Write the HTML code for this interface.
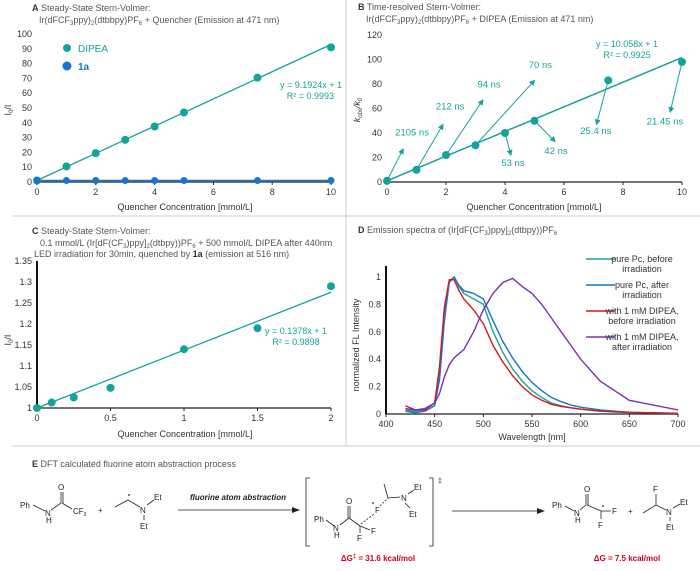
<!DOCTYPE html>
<html><head><meta charset="utf-8"><style>
body{margin:0;background:#fff;width:700px;height:566px;overflow:hidden}
svg{font-family:"Liberation Sans",sans-serif}
</style></head><body>
<svg id="s" width="700" height="566" viewBox="0 0 700 566">
<!-- dividers -->
<line x1="346" y1="0" x2="346" y2="446" stroke="#ccc" stroke-width="1"/>
<line x1="12" y1="216" x2="700" y2="216" stroke="#ccc"/>
<line x1="12" y1="446" x2="700" y2="446" stroke="#ccc"/>
<!-- titles -->
<g font-size="9" fill="#555">
<text x="32" y="11"><tspan font-weight="bold" fill="#333">A</tspan> Steady-State Stern-Volmer:</text>
<text x="39" y="23">Ir(dFCF<tspan font-size="6" dy="2">3</tspan><tspan dy="-2">ppy)</tspan><tspan font-size="6" dy="2">2</tspan><tspan dy="-2">(dtbbpy)PF</tspan><tspan font-size="6" dy="2">6</tspan><tspan dy="-2"> + Quencher (Emission at 471 nm)</tspan></text>
<text x="358" y="10"><tspan font-weight="bold" fill="#333">B</tspan> Time-resolved Stern-Volmer:</text>
<text x="366" y="22">Ir(dFCF<tspan font-size="6" dy="2">3</tspan><tspan dy="-2">ppy)</tspan><tspan font-size="6" dy="2">2</tspan><tspan dy="-2">(dtbbpy)PF</tspan><tspan font-size="6" dy="2">6</tspan><tspan dy="-2"> + DIPEA (Emission at 471 nm)</tspan></text>
<text x="32" y="234"><tspan font-weight="bold" fill="#333">C</tspan> Steady-State Stern-Volmer:</text>
<text x="40" y="246">0.1 mmol/L (Ir[dF(CF<tspan font-size="6" dy="2">3</tspan><tspan dy="-2">)ppy]</tspan><tspan font-size="6" dy="2">2</tspan><tspan dy="-2">(dtbpy))PF</tspan><tspan font-size="6" dy="2">6</tspan><tspan dy="-2"> + 500 mmol/L DIPEA after 440nm</tspan></text>
<text x="34" y="257">LED irradiation for 30min, quenched by <tspan font-weight="bold" fill="#333">1a</tspan> (emission at 516 nm)</text>
<text x="358" y="233"><tspan font-weight="bold" fill="#333">D</tspan> Emission spectra of (Ir[dF(CF<tspan font-size="6" dy="2">3</tspan><tspan dy="-2">)ppy]</tspan><tspan font-size="6" dy="2">2</tspan><tspan dy="-2">(dtbpy))PF</tspan><tspan font-size="6" dy="2">6</tspan></text>
<text x="32" y="467"><tspan font-weight="bold" fill="#333">E</tspan> DFT calculated fluorine atom abstraction process</text>
</g>
<g id="charts"></g>
<!-- Panel E scheme -->
<g font-size="8" fill="#222" stroke-width="0.8">
<text x="20" y="508">Ph</text><line x1="33" y1="505" x2="45" y2="511" stroke="#222"/>
<text x="45" y="516">N</text><text x="46" y="523">H</text>
<line x1="51" y1="510" x2="61" y2="503" stroke="#222"/>
<line x1="61" y1="503" x2="61" y2="492" stroke="#222"/><line x1="63" y1="503" x2="63" y2="492" stroke="#222"/>
<text x="58" y="490">O</text>
<line x1="62" y1="503" x2="72" y2="509" stroke="#222"/><text x="73" y="514">CF<tspan font-size="5" dy="2">3</tspan></text>
<text x="98" y="513">+</text>
<line x1="115" y1="507" x2="128" y2="500" stroke="#222"/><line x1="128" y1="500" x2="140" y2="507" stroke="#222"/>
<circle cx="129" cy="495" r="0.9" fill="#222"/>
<text x="140" y="513">N</text><line x1="147" y1="505" x2="154" y2="500" stroke="#222"/><text x="154" y="500">Et</text>
<line x1="144" y1="515" x2="144" y2="520" stroke="#222"/><text x="140" y="529">Et</text>
<text x="238" y="500" text-anchor="middle" font-weight="bold" font-style="italic">fluorine atom abstraction</text>
<line x1="178" y1="510" x2="294" y2="510" stroke="#222"/><polygon points="300,510 292,507 292,513" fill="#222"/>
<path d="M310 478 H306 V546 H310" fill="none" stroke="#222"/>
<path d="M429 478 H433 V546 H429" fill="none" stroke="#222"/>
<text x="438" y="483" font-size="7">‡</text>
<text x="314" y="522">Ph</text><line x1="326" y1="520" x2="334" y2="526" stroke="#222"/>
<text x="333" y="531">N</text><text x="334" y="538">H</text>
<line x1="340" y1="525" x2="349" y2="518" stroke="#222"/>
<line x1="348" y1="518" x2="348" y2="506" stroke="#222"/><line x1="350" y1="518" x2="350" y2="506" stroke="#222"/>
<text x="346" y="504">O</text>
<line x1="349" y1="518" x2="360" y2="526" stroke="#222"/>
<line x1="360" y1="526" x2="360" y2="533" stroke="#222"/><text x="357" y="541">F</text>
<line x1="360" y1="526" x2="370" y2="530" stroke="#222"/><text x="371" y="534">F</text>
<line x1="361" y1="524" x2="374" y2="514" stroke="#222" stroke-dasharray="2,1.5"/><text x="375" y="513">F</text>
<circle cx="373" cy="503" r="0.9" fill="#222"/>
<line x1="380" y1="506" x2="388" y2="498" stroke="#222" stroke-dasharray="2,1.5"/>
<line x1="388" y1="498" x2="384" y2="484" stroke="#222"/><line x1="388" y1="498" x2="400" y2="497" stroke="#222"/>
<text x="401" y="501">N</text><line x1="408" y1="494" x2="414" y2="490" stroke="#222"/><text x="414" y="490">Et</text>
<line x1="405" y1="503" x2="410" y2="508" stroke="#222"/><text x="409" y="517">Et</text>
<line x1="452" y1="511" x2="539" y2="511" stroke="#222"/><polygon points="545,511 537,508 537,514" fill="#222"/>
<text x="552" y="508">Ph</text><line x1="565" y1="506" x2="574" y2="511" stroke="#222"/>
<text x="574" y="516">N</text><text x="575" y="523">H</text>
<line x1="580" y1="510" x2="586" y2="505" stroke="#222"/>
<line x1="586" y1="505" x2="586" y2="494" stroke="#222"/><line x1="588" y1="505" x2="588" y2="494" stroke="#222"/>
<text x="584" y="492">O</text>
<line x1="587" y1="505" x2="601" y2="511" stroke="#222"/><circle cx="603" cy="506" r="0.9" fill="#222"/>
<line x1="601" y1="511" x2="611" y2="511" stroke="#222"/><text x="612" y="514">F</text>
<line x1="601" y1="511" x2="601" y2="519" stroke="#222"/><text x="598" y="528">F</text>
<text x="628" y="514">+</text>
<line x1="643" y1="513" x2="656" y2="505" stroke="#222"/><line x1="656" y1="505" x2="656" y2="494" stroke="#222"/><text x="653" y="492">F</text>
<line x1="656" y1="505" x2="666" y2="510" stroke="#222"/>
<text x="666" y="515">N</text><line x1="673" y1="508" x2="680" y2="504" stroke="#222"/><text x="680" y="505">Et</text>
<line x1="670" y1="517" x2="670" y2="521" stroke="#222"/><text x="666" y="530">Et</text>
<text x="378" y="561" text-anchor="middle" fill="#d0021b" font-weight="bold">ΔG<tspan font-size="6" dy="-3">‡</tspan><tspan dy="3"> = 31.6 kcal/mol</tspan></text>
<text x="627" y="561" text-anchor="middle" fill="#d0021b" font-weight="bold">ΔG = 7.5 kcal/mol</text>
</g>
</svg>
<script>
// ---- data ----
const aConc=[0,1,2,3,4,5,7.5,10];
const aDipea=[1,10.5,19.5,28.5,37.5,47,70.5,91];
const a1a=[1,1,1,1,1,1,1,1];
const aTicksX=[0,2,4,6,8,10];
const aTicksY=[0,10,20,30,40,50,60,70,80,90,100];
const bConc=[0,1,2,3,4,5,7.5,10];
const bVals=[1,10,22,30,40,50,83,98];
const bLabels=["2105 ns","212 ns","94 ns","70 ns","53 ns","42 ns","25.4 ns","21.45 ns"];
const bArrowEndX=[0.55,1.9,3.25,5.0,4.2,5.7,7.1,9.6];
const bArrowEndY=[27,47,67,83,22,33,47,57];
const bLabelX=[0.85,2.14,3.46,5.2,4.27,5.73,7.08,9.42];
const bLabelY=[38,59,77,93,13,23,39,47];
const bTicksY=[0,20,40,60,80,100,120];
const cConc=[0,0.1,0.25,0.5,1,1.5,2];
const cVals=[1,1.013,1.025,1.048,1.14,1.19,1.29];
const cTicksX=[0,0.5,1,1.5,2];
const cTicksY=[1,1.05,1.1,1.15,1.2,1.25,1.3,1.35];
const dWave=[420,430,440,450,455,460,465,470,475,480,490,500,510,520,530,540,550,560,570,580,590,600,620,650,700];
const dTeal=[0.03,0.02,0.03,0.08,0.3,0.72,0.97,1.0,0.93,0.88,0.84,0.8,0.6,0.45,0.33,0.24,0.17,0.12,0.08,0.06,0.045,0.035,0.02,0.01,0.005];
const dBlue=[0.02,0.01,0.02,0.06,0.25,0.68,0.96,1.0,0.94,0.9,0.88,0.84,0.68,0.53,0.41,0.31,0.23,0.17,0.12,0.09,0.065,0.05,0.03,0.012,0.005];
const dRed=[0.06,0.03,0.03,0.08,0.35,0.78,0.98,0.98,0.9,0.84,0.76,0.66,0.5,0.38,0.28,0.2,0.14,0.1,0.07,0.055,0.045,0.035,0.022,0.012,0.005];
const dPurple=[0.04,0.03,0.04,0.08,0.15,0.27,0.36,0.41,0.44,0.47,0.6,0.76,0.88,0.96,0.99,0.93,0.88,0.8,0.7,0.6,0.5,0.4,0.24,0.1,0.03];
const dTicksX=[400,450,500,550,600,650,700];
const dTicksY=[0,0.2,0.4,0.6,0.8,1];
const dNames=["pure Pc, before|irradiation","pure Pc, after|irradiation","with 1 mM DIPEA,|before irradiation","with 1 mM DIPEA,|after irradiation"];

const NS="http://www.w3.org/2000/svg";
const root=document.getElementById('charts');
const TEAL="#14a39a",BLUE="#1874cd",RED="#d7191c",PURPLE="#7b2fb5";
function mk(tag,at,parent){const e=document.createElementNS(NS,tag);for(const k in at)e.setAttribute(k,at[k]);(parent||root).appendChild(e);return e;}
function txt(x,y,s,at,parent){const e=mk('text',Object.assign({x:x,y:y,'font-size':9,fill:'#333'},at||{}),parent);e.textContent=s;return e;}
function scale(d0,d1,r0,r1){return v=>r0+(v-d0)/(d1-d0)*(r1-r0);}

function axes(g,sx,sy,tx,ty,x0,x1,y0,y1,fmtX,fmtY,yAxis,xT,yT){
  const xa=mk('line',{x1:sx(x0),x2:sx(x1),y1:sy(y0),y2:sy(y0),stroke:'#222','stroke-width':1.2},g);
  
  
  tx.forEach(v=>{mk('line',{x1:sx(v),x2:sx(v),y1:sy(y0),y2:sy(y0)+3,stroke:'#222'},g);
    const t=txt(sx(v),sy(y0)+13,fmtX(v),{'text-anchor':'middle'},g);
    
    });
  if(yAxis){const ya=mk('line',{x1:sx(x0),x2:sx(x0),y1:sy(y0),y2:sy(y1),stroke:'#111','stroke-width':2},g);
    
    }
  ty.forEach(v=>{const t=txt(sx(x0)-5,sy(v)+3,fmtY(v),{'text-anchor':'end'},g);
    
    });
}
function dot(g,x,y,r,c,name){const e=mk('circle',{cx:x,cy:y,r:r,fill:c},g);
  
  }

// Panel A
(function(){
  const g=mk('g',{});
  
  
  const sx=scale(0,10,37,331),sy=scale(0,100,182,34);
  axes(g,sx,sy,aTicksX,aTicksY,0,10,0,100,String,String,false);
  const tr=mk('line',{x1:sx(0),y1:sy(1),x2:sx(10),y2:sy(92.9),stroke:TEAL,'stroke-width':1.3},g);
  
  
  const bl=mk('line',{x1:sx(0),y1:sy(1),x2:sx(10),y2:sy(1),stroke:BLUE,'stroke-width':1.5},g);
  
  
  aConc.forEach((c,i)=>dot(g,sx(c),sy(aDipea[i]),4,TEAL,'dipea-point'));
  aConc.forEach((c,i)=>dot(g,sx(c),sy(a1a[i]),3.5,BLUE,'1a-point'));
  dot(g,67,48,4,TEAL,'legend-dipea-marker');
  txt(78,52,'DIPEA',{fill:TEAL,'font-size':10},g);
  dot(g,67,66,4.5,BLUE,'legend-1a-marker');
  txt(78,70,'1a',{fill:BLUE,'font-size':10,'font-weight':'bold'},g);
  txt(342,88,'y = 9.1924x + 1',{fill:TEAL,'text-anchor':'end'},g);
  txt(334,99,'R² = 0.9993',{fill:TEAL,'text-anchor':'end'},g);
  txt(185,210,'Quencher Concentration [mmol/L]',{'text-anchor':'middle'},g);
  const yt=txt(0,0,'I',{transform:'translate(11,110) rotate(-90)','text-anchor':'middle'},g);
  yt.innerHTML='I<tspan font-size="6" dy="2">0</tspan><tspan dy="-2">/I</tspan>';
  
})();
// Panel B
(function(){
  const g=mk('g',{});
  
  
  const sx=scale(0,10,387,682),sy=scale(0,120,182,35);
  axes(g,sx,sy,aTicksX,bTicksY,0,10,0,120,String,String,false);
  const tr=mk('line',{x1:sx(0),y1:sy(1),x2:sx(10),y2:sy(101.6),stroke:TEAL,'stroke-width':1.5},g);
  
  
  const defs=mk('defs',{},g);
  const m=mk('marker',{id:'ah',markerWidth:6,markerHeight:6,refX:5,refY:3,orient:'auto'},defs);
  mk('path',{d:'M0,0 L6,3 L0,6 z',fill:TEAL},m);
  bConc.forEach((c,i)=>{const a=mk('line',{x1:sx(c),y1:sy(bVals[i]),x2:sx(bArrowEndX[i]),y2:sy(bArrowEndY[i]),stroke:TEAL,'stroke-width':1,'marker-end':'url(#ah)'},g);
    
    
    const t=txt(sx(bLabelX[i]),sy(bLabelY[i]),bLabels[i],{fill:TEAL,'font-size':9.5,'text-anchor':'middle'},g);
    
    });
  bConc.forEach((c,i)=>dot(g,sx(c),sy(bVals[i]),4,TEAL,'kobs-point'));
  txt(627,47,'y = 10.058x + 1',{fill:TEAL,'text-anchor':'middle'},g);
  txt(627,58,'R² = 0.9925',{fill:TEAL,'text-anchor':'middle'},g);
  txt(534,210,'Quencher Concentration [mmol/L]',{'text-anchor':'middle'},g);
  const yt=txt(0,0,'',{transform:'translate(360,110) rotate(-90)','text-anchor':'middle','font-style':'italic'},g);
  yt.innerHTML='k<tspan font-size="6" dy="2">obs</tspan><tspan dy="-2">/k</tspan><tspan font-size="6" dy="2">0</tspan>';
  
})();
// Panel C
(function(){
  const g=mk('g',{});
  
  
  const sx=scale(0,2,37,331),sy=scale(1,1.35,408,261);
  axes(g,sx,sy,cTicksX,cTicksY,0,2,1,1.35,String,String,true);
  const tr=mk('line',{x1:sx(0),y1:sy(1),x2:sx(2),y2:sy(1.2756),stroke:TEAL,'stroke-width':1.3},g);
  
  
  cConc.forEach((c,i)=>dot(g,sx(c),sy(cVals[i]),4,TEAL,'c-point'));
  txt(296,334,'y = 0.1378x + 1',{fill:TEAL,'text-anchor':'middle'},g);
  txt(296,345,'R² = 0.9898',{fill:TEAL,'text-anchor':'middle'},g);
  txt(185,437,'Quencher Concentration [mmol/L]',{'text-anchor':'middle'},g);
  const yt=txt(0,0,'',{transform:'translate(11,340) rotate(-90)','text-anchor':'middle'},g);
  yt.innerHTML='I<tspan font-size="6" dy="2">0</tspan><tspan dy="-2">/I</tspan>';
  
})();
// Panel D
(function(){
  const g=mk('g',{});
  
  
  const sx=scale(400,700,386,678),sy=scale(0,1,414,277);
  axes(g,sx,sy,dTicksX,dTicksY,400,700,0,1.08,String,String,true);
  const series=[dTeal,dBlue,dRed,dPurple],cols=[TEAL,BLUE,RED,PURPLE];
  series.forEach((s,k)=>{const p=mk('polyline',{points:dWave.map((w,i)=>sx(w)+','+sy(s[i])).join(' '),fill:'none',stroke:cols[k],'stroke-width':1.4},g);
    
    });
  dNames.forEach((n,k)=>{const y=259+k*26;
    const l=mk('line',{x1:586,x2:615,y1:y,y2:y,stroke:cols[k],'stroke-width':1.6},g);
    
    
    const parts=n.split('|');
    const t1=txt(642,y+3,parts[0],{'text-anchor':'middle'},g);
    
    
    const t2=txt(642,y+13,parts[1],{'text-anchor':'middle'},g);
    
    });
  txt(532,440,'Wavelength [nm]',{'text-anchor':'middle'},g);
  txt(0,0,'normalized FL Intensity',{transform:'translate(359,345) rotate(-90)','text-anchor':'middle'},g);
})();
</script>
</body></html>
